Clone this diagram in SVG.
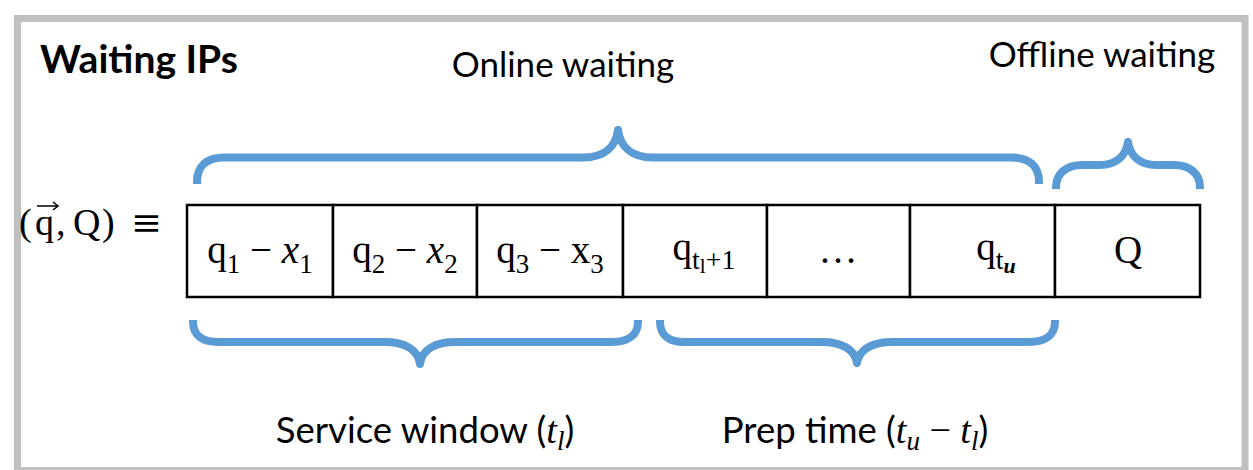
<svg xmlns="http://www.w3.org/2000/svg" width="1253" height="470" viewBox="0 0 1253 470">
<style>
.brace{fill:none;stroke:#5B9BD5;stroke-width:8;stroke-linecap:butt;stroke-linejoin:round}
.cell{fill:#fff;stroke:#000;stroke-width:2.5}
.lbl{font-family:Lato,"Liberation Sans",sans-serif;font-size:35px;fill:#000}
.lbl2{font-family:Lato,"Liberation Sans",sans-serif;font-size:36.5px;fill:#000}
.m{font-family:"Liberation Serif","DejaVu Serif",serif;font-size:39px;fill:#000}
.sub{font-size:27px}
.mi{font-family:"Liberation Serif","DejaVu Serif",serif;font-style:italic}
</style>
<rect x="0" y="0" width="1253" height="470" fill="#fff"/>
<rect x="17.5" y="18.5" width="1227.5" height="452" fill="none" stroke="#C0C0C0" stroke-width="7"/>
<g id="title"><text x="40" y="73" style="font-family:Lato,'Liberation Sans',sans-serif;font-size:39px;font-weight:bold">Waiting IPs</text></g>
<g id="online-label"><text x="563" y="77" class="lbl" text-anchor="middle">Online waiting</text></g>
<g id="offline-label"><text x="1102" y="67" class="lbl" text-anchor="middle">Offline waiting</text></g>
<g id="lhs">
<text y="235" font-family="'Liberation Serif','DejaVu Serif',serif" font-size="38"><tspan x="19">(</tspan><tspan x="35">q</tspan><tspan x="56">,</tspan><tspan x="73">Q</tspan><tspan x="102">)</tspan></text>
<text x="146.5" y="235" font-family="'DejaVu Serif',serif" font-size="37" text-anchor="middle">≡</text>
<path d="M37 206 H57 M53 202 L58 206 L53 210" fill="none" stroke="#000" stroke-width="1.6"/>
</g>
<g id="cells">
<g id="c1"><rect class="cell" x="187" y="205" width="146" height="92"/><text class="m" x="260" y="263" text-anchor="middle">q<tspan class="sub" dy="10">1</tspan><tspan dy="-10"> − </tspan><tspan font-style="italic">x</tspan><tspan class="sub" dy="10">1</tspan></text></g>
<g id="c2"><rect class="cell" x="333" y="205" width="144" height="92"/><text class="m" x="405" y="263" text-anchor="middle">q<tspan class="sub" dy="10">2</tspan><tspan dy="-10"> − </tspan><tspan font-style="italic">x</tspan><tspan class="sub" dy="10">2</tspan></text></g>
<g id="c3"><rect class="cell" x="477" y="205" width="146" height="92"/><text class="m" x="550" y="263" text-anchor="middle">q<tspan class="sub" dy="10">3</tspan><tspan dy="-10"> − x</tspan><tspan class="sub" dy="10">3</tspan></text></g>
<g id="c4"><rect class="cell" x="623" y="205" width="144" height="92"/><text class="m" x="704" y="260" text-anchor="middle" font-size="40">q<tspan font-size="28" dy="9">t</tspan><tspan font-size="21" dy="4">l</tspan><tspan font-size="28" dy="-4">+1</tspan></text></g>
<g id="c5"><rect class="cell" x="767" y="205" width="143" height="92"/><text class="m" x="838" y="263" text-anchor="middle">…</text></g>
<g id="c6"><rect class="cell" x="910" y="205" width="145" height="92"/><text class="m" x="996" y="260" text-anchor="middle" font-size="40">q<tspan font-size="28" dy="9">t</tspan><tspan font-size="22" dy="4" font-style="italic" font-weight="bold">u</tspan></text></g>
<g id="c7"><rect class="cell" x="1055" y="205" width="145" height="92"/><text class="m" x="1128" y="263" text-anchor="middle">Q</text></g>
</g>
<g id="connectors">
<path class="brace" d="M197 184 V182 C197 166 207 157.5 224 157.5 H583 C605 157.5 616 146 618 130 C620 146 631 157.5 653 157.5 H1012 C1029 157.5 1039 166 1039 182 V184"/>
<path class="brace" d="M1056 189 V187 C1056 174 1066 165 1082 165 H1100 C1116 165 1126 156 1128 142 C1130 156 1140 165 1156 165 H1174 C1190 165 1200 174 1200 187 V189"/>
<path class="brace" d="M193 320 V322 C193 335 202 342 218 342 H385 C404 342 418 349 420 364 C422 349 436 342 455 342 H612 C628 342 638 335 638 322 V320"/>
<path class="brace" d="M660 320 V322 C660 335 669 342 684 342 H822 C841 342 855 349 857 363 C859 349 873 342 892 342 H1029 C1045 342 1055 335 1055 322 V320"/>
</g>
<g id="service-label"><text class="lbl2" x="425" y="443" text-anchor="middle">Service window (<tspan class="mi" font-size="38">t</tspan><tspan class="mi" font-size="27" dy="7">l</tspan><tspan dy="-7">)</tspan></text></g>
<g id="prep-label"><text class="lbl2" x="855" y="443" text-anchor="middle">Prep time (<tspan class="mi" font-size="38">t</tspan><tspan class="mi" font-size="27" dy="7">u</tspan><tspan font-family="'Liberation Serif',serif" font-size="38" dy="-7"> − </tspan><tspan class="mi" font-size="38">t</tspan><tspan class="mi" font-size="27" dy="7">l</tspan><tspan dy="-7">)</tspan></text></g>
</svg>
